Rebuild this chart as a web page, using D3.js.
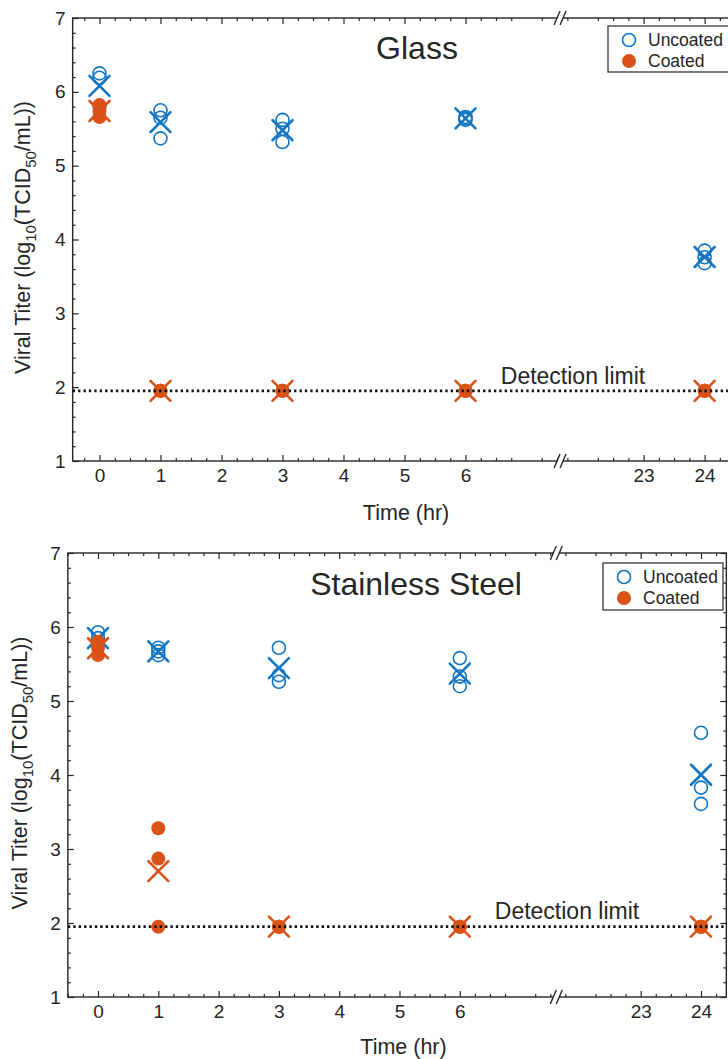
<!DOCTYPE html>
<html><head><meta charset="utf-8">
<script src="https://cdn.jsdelivr.net/npm/d3@7"></script>
<style>body{margin:0;background:#fff}text{font-family:Helvetica,Arial,"Liberation Sans",sans-serif;fill:#262626}</style>
</head><body><svg id="c" width="728" height="1059"></svg>
<script>
// ---------- data ----------
const times = [0, 1, 3, 6, 24];
const xTickValues = [0, 1, 2, 3, 4, 5, 6, 23, 24];
const yTickValues = [1, 2, 3, 4, 5, 6, 7];
const seriesNames = ["Uncoated", "Coated"];
const panelTitles = ["Glass", "Stainless Steel"];
const detectionLimit = 1.95;
const detectionLabel = "Detection limit";

const glassUncoated = [[6.25, 6.19, 5.80], [5.75, 5.65, 5.37], [5.62, 5.50, 5.32], [5.66, 5.64, 5.62], [3.85, 3.76, 3.68]];
const glassCoated   = [[5.82, 5.74, 5.66], [1.95, 1.95, 1.95], [1.95, 1.95, 1.95], [1.95, 1.95, 1.95], [1.95, 1.95, 1.95]];
const steelUncoated = [[5.93, 5.85, 5.77], [5.72, 5.67, 5.62], [5.72, 5.35, 5.26], [5.58, 5.33, 5.20], [4.57, 3.83, 3.61]];
const steelCoated   = [[5.80, 5.72, 5.62], [3.28, 2.87, 1.95], [1.95, 1.95, 1.95], [1.95, 1.95, 1.95], [1.95, 1.95, 1.95]];

// ---------- style / layout ----------
const BLUE = "#1276c2", ORANGE = "#D95319", AX = "#262626";
const panels = [
  {title: panelTitles[0], unc: glassUncoated, coa: glassCoated,
   x0px: 99.5, k: 61, bL: 7.55, bR: 21.63, xmin: -0.44, xmax: 24.6, top: 18, bottom: 461,
   titleX: 417, titleY: 59, detX: 573, detY: 384, xlabY: 520, ylabX: 30,
   leg: {x: 608, y: 26, w: 124, h: 46}},
  {title: panelTitles[1], unc: steelUncoated, coa: steelCoated,
   x0px: 98, k: 60.3, bL: 7.6, bR: 21.6, xmin: -0.5, xmax: 24.42, top: 553, bottom: 997,
   titleX: 416, titleY: 595, detX: 567, detY: 919, xlabY: 1054, ylabX: 27,
   leg: {x: 603, y: 563, w: 120, h: 47}}
];

const svg = d3.select("#c");

panels.forEach(p => {
  const gap = p.bR - p.bL;
  const bp = p.x0px + p.k * p.bL;
  const x = d3.scaleLinear()
    .domain([p.xmin, p.bL, p.bR, p.xmax])
    .range([p.x0px + p.k * p.xmin, bp, bp, p.x0px + p.k * (p.xmax - gap)]);
  const y = d3.scaleLinear().domain([1, 7]).range([p.bottom, p.top]);
  const L = x(p.xmin), R = x(p.xmax);
  const g = svg.append("g");

  const minorX = d3.range(Math.ceil(p.xmin * 4) / 4, p.bL + 1e-9, 0.25)
    .concat(d3.range(Math.ceil(p.bR * 4) / 4, p.xmax + 1e-9, 0.25))
    .filter(v => Math.abs(v - Math.round(v)) > 1e-6);
  const minorY = d3.range(1, 7.001, 0.2).filter(v => Math.abs(v - Math.round(v)) > 1e-6);

  function styleAxis(sel) {
    sel.select(".domain").remove();
    sel.selectAll("line").attr("stroke", AX).attr("stroke-width", 1.2);
    sel.selectAll("text").style("font-size", "19px").attr("fill", "#333");
  }
  // bottom axis
  g.append("g").attr("transform", `translate(0,${p.bottom})`)
    .call(d3.axisBottom(x).tickValues(xTickValues).tickSize(-6).tickSizeOuter(0).tickPadding(8).tickFormat(d3.format("d")))
    .call(styleAxis);
  g.append("g").attr("transform", `translate(0,${p.bottom})`)
    .call(d3.axisBottom(x).tickValues(minorX).tickSize(-3).tickSizeOuter(0).tickFormat(""))
    .call(styleAxis);
  // top axis
  g.append("g").attr("transform", `translate(0,${p.top})`)
    .call(d3.axisTop(x).tickValues(xTickValues).tickSize(-6).tickSizeOuter(0).tickFormat(""))
    .call(styleAxis);
  g.append("g").attr("transform", `translate(0,${p.top})`)
    .call(d3.axisTop(x).tickValues(minorX).tickSize(-3).tickSizeOuter(0).tickFormat(""))
    .call(styleAxis);
  // left axis
  g.append("g").attr("transform", `translate(${L},0)`)
    .call(d3.axisLeft(y).tickValues(yTickValues).tickSize(-6).tickSizeOuter(0).tickPadding(7).tickFormat(d3.format("d")))
    .call(styleAxis);
  g.append("g").attr("transform", `translate(${L},0)`)
    .call(d3.axisLeft(y).tickValues(minorY).tickSize(-3).tickSizeOuter(0).tickFormat(""))
    .call(styleAxis);
  // right axis
  g.append("g").attr("transform", `translate(${R},0)`)
    .call(d3.axisRight(y).tickValues(yTickValues).tickSize(-6).tickSizeOuter(0).tickFormat(""))
    .call(styleAxis);
  g.append("g").attr("transform", `translate(${R},0)`)
    .call(d3.axisRight(y).tickValues(minorY).tickSize(-3).tickSizeOuter(0).tickFormat(""))
    .call(styleAxis);

  // frame
  g.append("rect").attr("x", L).attr("y", p.top).attr("width", R - L).attr("height", p.bottom - p.top)
    .attr("fill", "none").attr("stroke", AX).attr("stroke-width", 1.4);

  // break marks
  [p.bottom, p.top].forEach(yy => {
    const h = 7, s = 3, d = 6;
    g.append("path")
      .attr("d", `M${bp - d / 2 - s},${yy + h} L${bp - d / 2 + s},${yy - h} L${bp + d / 2 + s},${yy - h} L${bp + d / 2 - s},${yy + h} Z`)
      .attr("fill", "#fff");
    [-d / 2, d / 2].forEach(o => {
      g.append("line").attr("x1", bp + o - s).attr("y1", yy + h).attr("x2", bp + o + s).attr("y2", yy - h)
        .attr("stroke", AX).attr("stroke-width", 1.4);
    });
  });

  // markers
  const xPath = hs => `M${-hs},${-hs}L${hs},${hs}M${-hs},${hs}L${hs},${-hs}`;
  const pts = (arr) => arr.flatMap((vals, i) => vals.map(v => ({t: times[i], v})));
  const means = (arr) => arr.map((vals, i) => ({t: times[i], v: d3.mean(vals)}));

  g.append("g").selectAll("circle").data(pts(p.unc)).join("circle")
    .attr("cx", d => x(d.t)).attr("cy", d => y(d.v)).attr("r", 6.5)
    .attr("fill", "none").attr("stroke", BLUE).attr("stroke-width", 1.6);
  g.append("g").selectAll("path").data(means(p.unc)).join("path")
    .attr("transform", d => `translate(${x(d.t)},${y(d.v)})`).attr("d", xPath(10))
    .attr("stroke", BLUE).attr("stroke-width", 2.6).attr("stroke-linecap", "round").attr("fill", "none");
  g.append("g").selectAll("circle").data(pts(p.coa)).join("circle")
    .attr("cx", d => x(d.t)).attr("cy", d => y(d.v)).attr("r", 7)
    .attr("fill", ORANGE);
  g.append("g").selectAll("path").data(means(p.coa)).join("path")
    .attr("transform", d => `translate(${x(d.t)},${y(d.v)})`).attr("d", xPath(10))
    .attr("stroke", ORANGE).attr("stroke-width", 2.6).attr("stroke-linecap", "round").attr("fill", "none");

  // detection limit
  g.append("line").attr("x1", L).attr("x2", R).attr("y1", y(detectionLimit)).attr("y2", y(detectionLimit))
    .attr("stroke", "#111").attr("stroke-width", 2.8).attr("stroke-dasharray", "2.4,3");
  g.append("text").attr("x", p.detX).attr("y", p.detY).attr("text-anchor", "middle")
    .style("font-size", "23px").text(detectionLabel);

  // title
  g.append("text").attr("x", p.titleX).attr("y", p.titleY).attr("text-anchor", "middle")
    .style("font-size", "32px").text(p.title);

  // axis labels
  g.append("text").attr("x", (x(0) + x(24)) / 2 + 4).attr("y", p.xlabY).attr("text-anchor", "middle")
    .style("font-size", "21.5px").text("Time (hr)");
  const yl = g.append("text").attr("transform", `translate(${p.ylabX},${(p.top + p.bottom) / 2 - 2}) rotate(-90)`)
    .attr("text-anchor", "middle").style("font-size", "21.5px");
  yl.append("tspan").text("Viral Titer (log");
  yl.append("tspan").attr("dy", 6).style("font-size", "15px").text("10");
  yl.append("tspan").attr("dy", -6).text("(TCID");
  yl.append("tspan").attr("dy", 6).style("font-size", "15px").text("50");
  yl.append("tspan").attr("dy", -6).text("/mL))");

  // legend
  const lg = p.leg;
  g.append("rect").attr("x", lg.x).attr("y", lg.y).attr("width", lg.w).attr("height", lg.h)
    .attr("fill", "#fff").attr("stroke", AX).attr("stroke-width", 1.2);
  g.append("circle").attr("cx", lg.x + 21).attr("cy", lg.y + 14).attr("r", 6.5)
    .attr("fill", "none").attr("stroke", BLUE).attr("stroke-width", 1.6);
  g.append("circle").attr("cx", lg.x + 21).attr("cy", lg.y + 35).attr("r", 7).attr("fill", ORANGE);
  g.append("text").attr("x", lg.x + 40).attr("y", lg.y + 20).style("font-size", "17.5px").text(seriesNames[0]);
  g.append("text").attr("x", lg.x + 40).attr("y", lg.y + 41).style("font-size", "17.5px").text(seriesNames[1]);
});
</script></body></html>
